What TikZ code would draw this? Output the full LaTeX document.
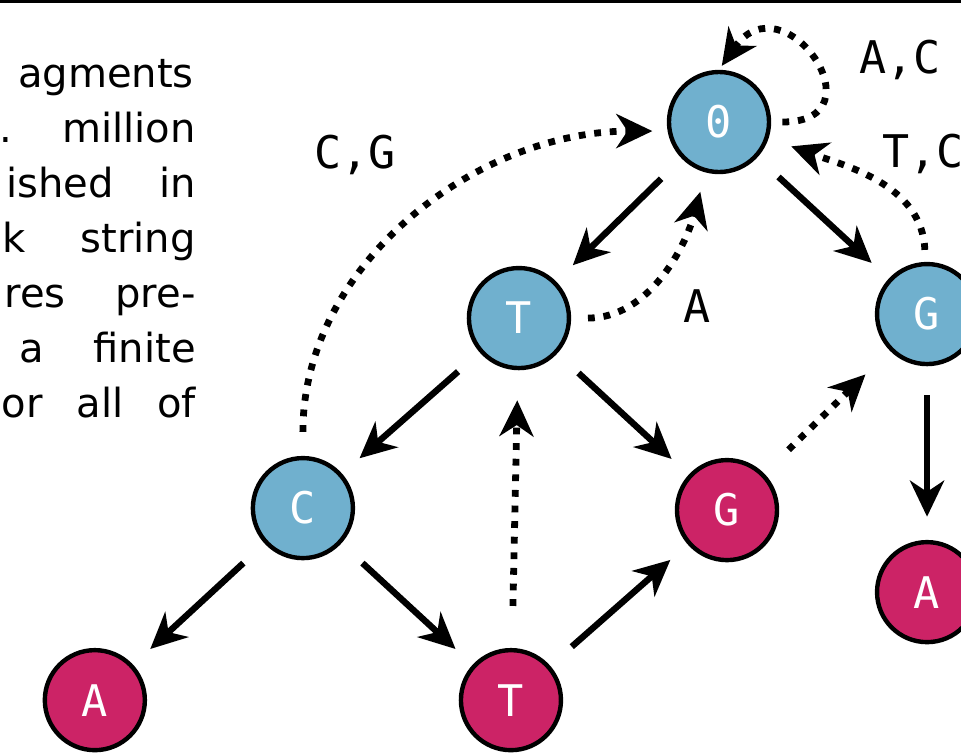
\documentclass[tikz,border=0pt]{standalone}
\usepackage{fontspec}
\setmainfont{DejaVu Sans}
\newfontfamily\codefont{DejaVu Sans Mono}
\usetikzlibrary{arrows.meta, positioning}
\definecolor{sblue}{HTML}{70B0CE}
\definecolor{sred}{HTML}{CC2366}
\newcommand{\jline}[2]{\makebox[#1][s]{#2}}
\tikzset{
  trienode/.style={circle, draw=black, line width=0.11cm, minimum size=2.5cm, inner sep=0pt,
                   text=white, font=\codefont\fontsize{31}{31}\selectfont},
  bluestate/.style={trienode, fill=sblue},
  redstate/.style={trienode, fill=sred},
  lbl/.style={anchor=base, inner sep=0pt, font=\codefont\fontsize{32}{32}\selectfont},
  flow/.style={-{Stealth[length=0.9cm, width=0.85cm, inset=0.28cm]}, line width=0.16cm,
               shorten <=0.72cm, shorten >=0.58cm},
  dotflow/.style={-{Stealth[length=0.9cm, width=0.85cm, inset=0.28cm]}, line width=0.17cm,
                  dash pattern=on 0.17cm off 0.22cm, shorten <=0.5cm, shorten >=0.5cm},
  para/.style={anchor=base east, inner sep=0pt, font=\fontsize{28.5}{39}\selectfont}
}

\begin{document}
\begin{tikzpicture}[x=0.025cm, y=-0.025cm, node distance=4.8cm and 5.2cm, on grid]
  \useasboundingbox (0,0) rectangle (961,752);
  \draw[line width=0.07cm] (0,1.4) -- (961,1.4);

  % paragraph cut off at the left edge
  \node[para] (par1) at (194,87) {agments};
  \node[para] (par2) at (196,142) {\jline{4.9cm}{. million}};
  \node[para] (par3) at (196,197) {\jline{4.73cm}{ished in}};
  \node[para] (par4) at (196,252) {\jline{4.83cm}{k string}};
  \node[para] (par5) at (196,307) {\jline{4.78cm}{res pre-}};
  \node[para] (par6) at (196,362) {\jline{4.4cm}{a finite}};
  \node[para] (par7) at (196,417) {\jline{4.85cm}{or all of}};

  % trie nodes
  \node[bluestate] (zero) at (719,122) {0};
  \node[bluestate, below left=4.9cm and 5.0cm of zero] (t1) {T};
  \node[bluestate, below right=of zero] (g1) {G};
  \node[bluestate, below left=4.75cm and 5.4cm of t1] (c2) {C};
  \node[redstate, below right=of t1] (g2) {G};
  \node[redstate, below=6.95cm of g1] (a2) {A};
  \node[redstate, below left=of c2] (a3) {A};
  \node[redstate, below right=of c2] (t3) {T};

  \draw[flow] (zero) -- (t1);
  \draw[flow] (zero) -- (g1);
  \draw[flow] (t1) -- (c2);
  \draw[flow] (t1) -- (g2);
  \draw[flow] (g1) -- (a2);
  \draw[flow] (c2) -- (a3);
  \draw[flow] (c2) -- (t3);
  \draw[flow] (t3) -- (g2);

  % failure links
  \draw[dotflow, shorten <=1.05cm, shorten >=0.75cm] (t3) -- (t1);
  \draw[dotflow, shorten <=0.85cm, shorten >=0.85cm] (g2) -- (g1);
  \draw[dotflow, shorten <=0.42cm] (t1) to[out=0, in=-105] (zero);
  \draw[dotflow, shorten <=0.6cm, shorten >=0.38cm] (c2) to[out=90, in=180] (zero.-170);
  \draw[dotflow, shorten <=0.3cm, shorten >=0.6cm] (g1) to[out=92, in=-20] (zero.-18);
  \draw[dotflow, shorten <=0.28cm, shorten >=0.12cm] (zero.east) to[out=0, in=55, looseness=3.9] (zero.north);

  \node[lbl] (lblA) at (697,322) {A};
  \node[lbl] (lblCG) at (355,168) {C,G};
  \node[lbl] (lblAC) at (900,73) {A,C};
  \node[lbl, anchor=base west] (lblTC) at (882,167) {T,C};
\end{tikzpicture}
\end{document}
